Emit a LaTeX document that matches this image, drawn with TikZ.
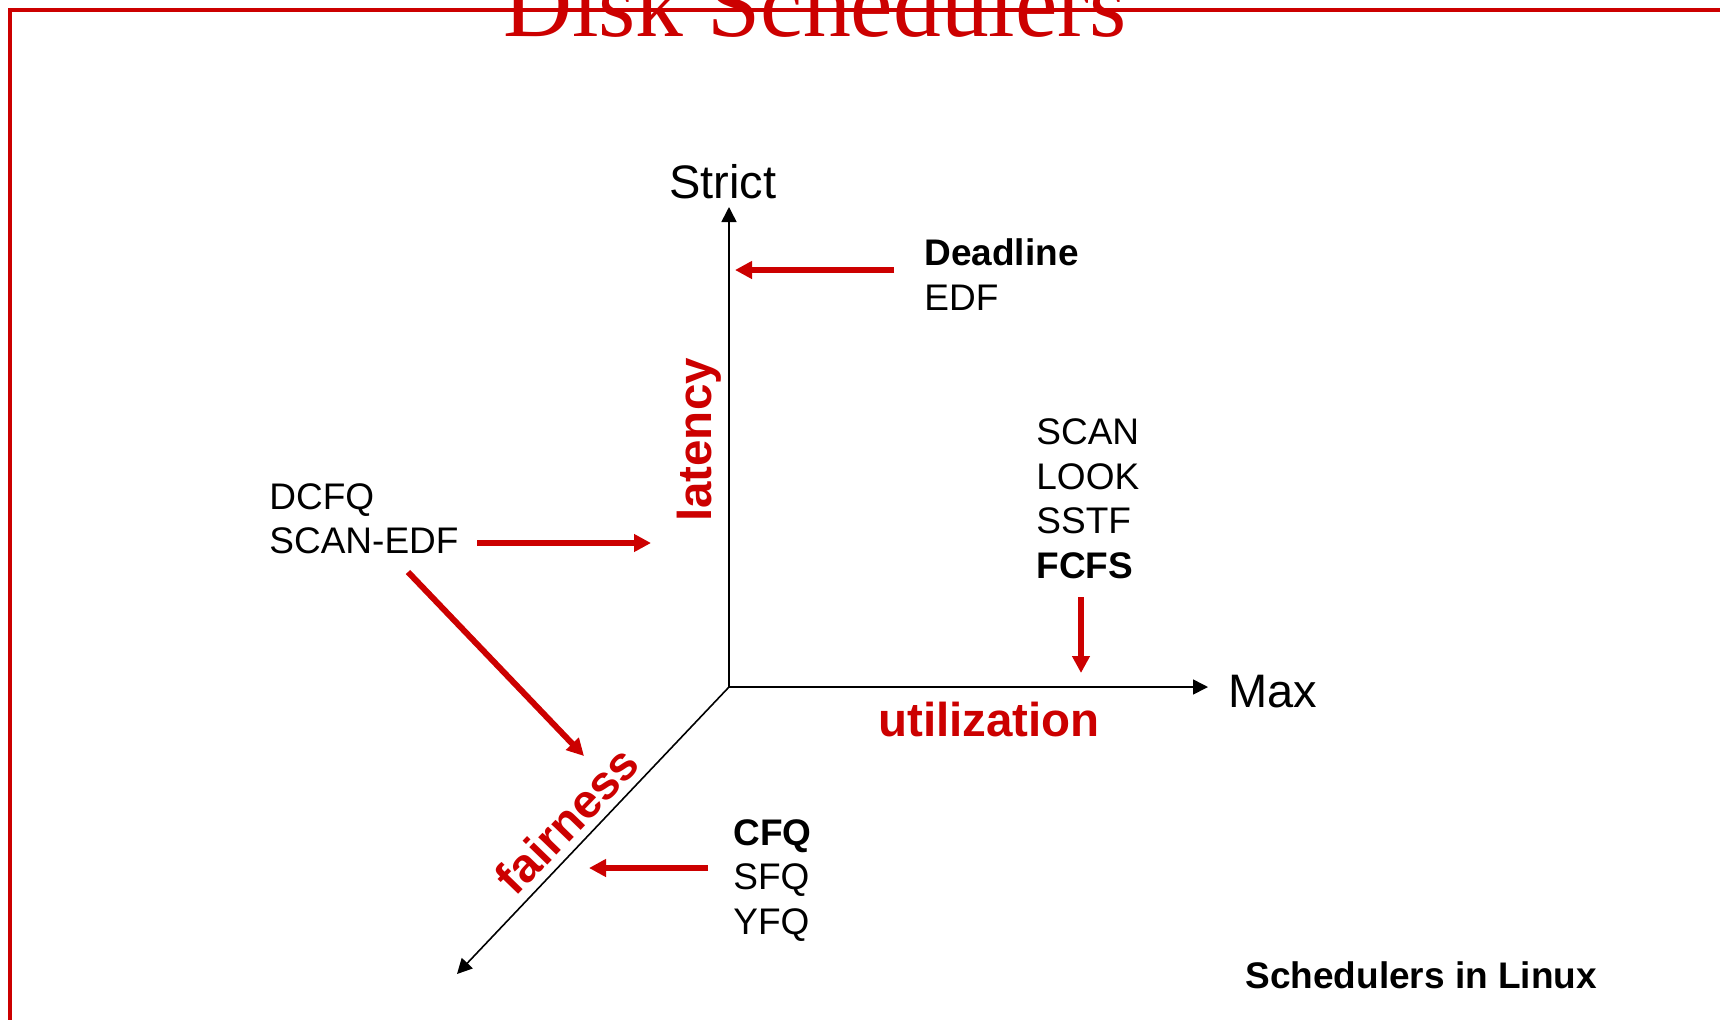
\documentclass[tikz,border=0pt]{standalone}
\usepackage{fontspec}
\setmainfont{Liberation Sans}
\newfontfamily\titlefont{Liberation Serif}
\usetikzlibrary{arrows.meta}
\definecolor{slidered}{RGB}{204,0,0}

\tikzset{
  lbl/.style={inner sep=0pt, anchor=base west, font=\fontsize{18.5}{22}\selectfont},
  axislbl/.style={inner sep=0pt, anchor=base west, font=\fontsize{23.5}{28}\selectfont},
  dimlbl/.style={inner sep=0pt, anchor=base, text=slidered, font=\fontsize{23.75}{28}\selectfont\bfseries},
  axis/.style={line width=0.8pt, -{Triangle[length=7.5pt,width=7.5pt]}},
  pointer/.style={slidered, line width=3pt, -{Triangle[length=8.5pt,width=8.5pt]}},
}

\begin{document}
\begin{tikzpicture}[x=0.5pt, y=-0.5pt]
        \useasboundingbox (0,0) rectangle (1720,1019);

        % 1. slide frame and title (cut at the top edge)
        \draw[slidered, line width=2pt] (1730,10) -- (10,10) -- (10,1030);
        \node[inner sep=0pt, anchor=base, text=slidered, font=\titlefont\fontsize{47.8}{56}\selectfont]
            (title) at (815,36) {Disk Schedulers};

        % 2. the three axes
        \coordinate (O)    at (729,687);
        \coordinate (Ytop) at (729,207);
        \coordinate (Xend) at (1208,687);
        \coordinate (Zend) at (457,974);
        \draw[axis] (O) -- (Ytop);
        \draw[axis] (O) -- (Xend);
        \draw[axis] (O) -- (Zend);

        \node[axislbl, anchor=base] (strict) at (723,198) {Strict};
        \node[axislbl] (max) at (1228,707) {Max};

        % 3. names of the dimensions
        \node[dimlbl, rotate=90] (latency) at (711,440) {latency};
        \node[dimlbl] (utilization) at (989,736) {utilization};
        \node[dimlbl, rotate=46] (fairness) at (579,832) {fairness};

        % 4. scheduler lists
        \node[lbl, font=\fontsize{18.5}{22}\selectfont\bfseries] (deadline) at (924,265) {Deadline};
        \node[lbl] (edf) at (924,310) {EDF};

        \node[lbl] (dcfq) at (269,509) {DCFQ};
        \node[lbl] (scanedf) at (269,553) {SCAN-EDF};

        \foreach \name/\y in {SCAN/444, LOOK/489, SSTF/533} {
            \node[lbl] (\name) at (1036,\y) {\name};
        }
        \node[lbl, font=\fontsize{18.5}{22}\selectfont\bfseries] (fcfs) at (1036,578) {FCFS};

        \node[lbl, font=\fontsize{18.5}{22}\selectfont\bfseries] (cfq) at (733,845) {CFQ};
        \node[lbl] (sfq) at (733,889) {SFQ};
        \node[lbl] (yfq) at (733,934) {YFQ};

        \node[lbl, font=\fontsize{18.5}{22}\selectfont\bfseries] (caption) at (1245,988) {Schedulers in Linux};

        % 5. red pointers from the lists to the axes
        \coordinate (P1a) at (894,270);  \coordinate (P1b) at (735,270);
        \coordinate (P2a) at (477,543);  \coordinate (P2b) at (651,543);
        \coordinate (P3a) at (408,572);  \coordinate (P3b) at (584,756);
        \coordinate (P4a) at (1081,597); \coordinate (P4b) at (1081,673);
        \coordinate (P5a) at (708,868);  \coordinate (P5b) at (589,868);
        \foreach \p in {1,...,5} {
            \draw[pointer] (P\p a) -- (P\p b);
        }

\end{tikzpicture}
\end{document}
